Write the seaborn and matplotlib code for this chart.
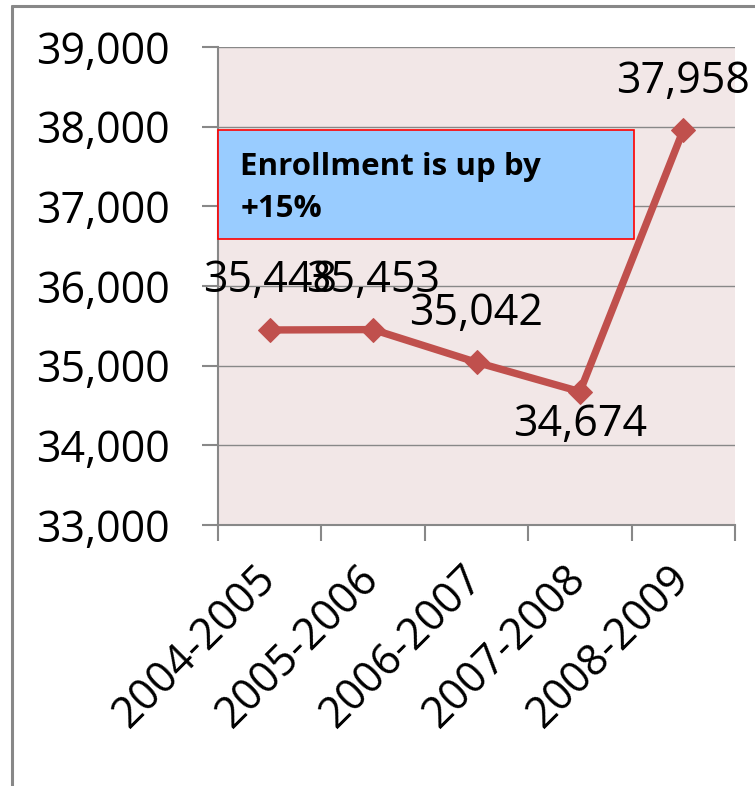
import matplotlib
matplotlib.use("Agg")
import matplotlib.pyplot as plt
import seaborn as sns
import pandas as pd
from matplotlib.patches import Rectangle
from matplotlib.lines import Line2D

# data
years = ['2004-2005', '2005-2006', '2006-2007', '2007-2008', '2008-2009']
enrollment = [35448, 35453, 35042, 34674, 37958]
label_above = [True, True, True, False, True]
y_ticks = [33000, 34000, 35000, 36000, 37000, 38000, 39000]
note_lines = ['Enrollment is up by', '+15%']

sns.set_theme(style='white')
plt.rcParams['font.family'] = ['Open Sans', 'DejaVu Sans']

df = pd.DataFrame({'year': years, 'enrollment': enrollment})

W, H = 755, 786
fig = plt.figure(figsize=(W / 100, H / 100), dpi=100)
ax = fig.add_axes([218 / W, 261 / H, 517 / W, 478 / H])
ax.set_facecolor('#F2E7E7')

grey = '#888888'
red = '#C0504D'

sns.lineplot(data=df, x='year', y='enrollment', ax=ax, color=red, linewidth=5.3,
             marker='D', markersize=12, markeredgecolor=red, sort=False, zorder=4)

ax.set_xlim(-0.5, len(years) - 0.5)
ax.set_ylim(y_ticks[0], y_ticks[-1])
ax.set_xlabel('')
ax.set_ylabel('')

ax.set_yticks(y_ticks, labels=[f'{v:,}' for v in y_ticks])
ax.yaxis.grid(True, color=grey, linewidth=1.0)
ax.xaxis.grid(False)
ax.set_axisbelow(True)

for side in ['top', 'right']:
    ax.spines[side].set_visible(False)
for side in ['left', 'bottom']:
    ax.spines[side].set_color(grey)
    ax.spines[side].set_linewidth(1.5)

ax.tick_params(axis='y', left=True, length=11.5, width=1.5, color=grey, pad=23,
               labelsize=31, labelcolor='black')

# ticks on category boundaries, labels on category centres
ax.set_xticks([i - 0.5 for i in range(len(years) + 1)], labels=[''] * (len(years) + 1))
ax.set_xticks(range(len(years)), labels=years, minor=True)
ax.tick_params(axis='x', which='major', bottom=True, length=11.5, width=1.5, color=grey)
ax.tick_params(axis='x', which='minor', bottom=True, length=0, pad=34, labelsize=31,
               labelcolor='black')
for lbl in ax.get_xticklabels(minor=True):
    lbl.set_rotation(45)
    lbl.set_ha('right')
    lbl.set_va('center')
    lbl.set_rotation_mode('anchor')

# data labels
for i, (v, up) in enumerate(zip(enrollment, label_above)):
    ax.annotate(f'{v:,}', (i, v), xytext=(0, 27 if up else -32),
                textcoords='offset points', ha='center', va='baseline',
                fontsize=31, color='black', zorder=5)

# note box
ax.add_patch(Rectangle((0, 0.598), 0.8046, 0.228, transform=ax.transAxes,
                       facecolor='#99CCFF', edgecolor='#FF0000', linewidth=1.2,
                       zorder=3, clip_on=False))
ax.text(0.043, 0.732, note_lines[0], transform=ax.transAxes, fontsize=22.5,
        fontweight='bold', va='baseline', ha='left', zorder=6, color='black')
ax.text(0.043, 0.644, note_lines[1], transform=ax.transAxes, fontsize=22.5,
        fontweight='bold', va='baseline', ha='left', zorder=6, color='black')

# outer chart frame (only left and top edges are visible)
fig.add_artist(Line2D([11.5 / W, 11.5 / W], [0, 1 - 5.5 / H], transform=fig.transFigure,
                      color=grey, linewidth=2.2))
fig.add_artist(Line2D([11.5 / W, 1], [1 - 5.5 / H, 1 - 5.5 / H], transform=fig.transFigure,
                      color=grey, linewidth=2.2))

fig.savefig('out.png', dpi=100, facecolor='white')
